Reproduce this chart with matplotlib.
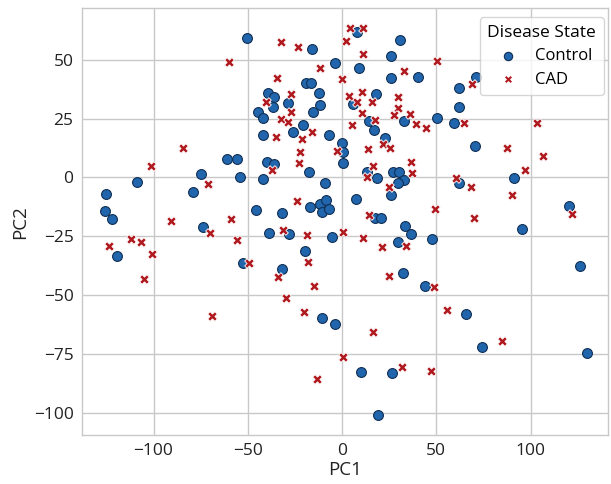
import matplotlib
matplotlib.use("Agg")
import matplotlib.pyplot as plt

plt.rcParams['font.family'] = ['Open Sans', 'DejaVu Sans']

control_pts = [(-50.6,59.5), (-15.9,54.7), (-3.5,48.6), (-19.3,40.1), (-16.6,40.3), (-39.3,36.1), (-36.1,34.4), (-12,35.8),
    (-28.6,31.6), (-36.4,30.1), (-11.7,30.9), (-44.7,27.7), (-41.7,25.2), (-15.5,27.7), (-20.5,22.3), (-42.1,18.1),
    (-25.8,19.2), (-7.1,18.1), (-0.2,14.6), (0.7,11),
    (8.1,62), (30.8,58.5), (25.8,51.8), (9.2,46.5), (25.8,42.5), (40.3,42.9), (61.8,38), (71.1,42.9), (17.9,35.4),
    (5.7,31.1), (61.8,29.9), (14.5,24), (33.1,24), (50.6,25.2), (59.6,23.1), (17.1,20.2), (22.8,16.9), (70.6,13.5),
    (-108.9,-1.8), (-75,1.5), (-78.8,-6), (-125.4,-7.2), (-125.7,-14.3), (-122.2,-17.7), (-73.6,-21.2), (-119.5,-33.4),
    (-60.8,7.7), (-55.9,7.7), (-40,6.7), (-35.9,5.7), (0.7,6.3), (-17.3,2.2), (-54.1,0.3), (-41.7,-0.8), (-9,-2.5),
    (-17,-12.4), (-11.7,-11.3), (-8.5,-9.6), (-10.8,-14.6), (-6.7,-13.5), (-45.8,-13.8), (-32,-15.2), (-38.5,-23.5),
    (-28,-24.2), (-5.5,-25.4), (-19.6,-31.1), (-52.7,-36.5), (-32,-38.9),
    (13.1,2.5), (27.2,2.5), (30.4,2.5), (18.4,-0.3), (32.6,-1.1), (29.4,-2.5), (25.8,-7.4), (7.4,-9.3), (61.8,-2.5),
    (17.5,-17.1), (20.5,-17.1), (33.3,-20.5), (36.4,-24), (47.6,-26.3), (29.9,-27.6), (32.5,-40.8), (44,-46.2),
    (91.2,-0.3), (120.6,-12.1), (95.3,-22), (126.3,-37.7),
    (-10.5,-59.7), (-3.7,-62.5), (65.8,-58.1), (10.1,-82.6), (26.7,-83.1), (19.3,-101.1), (74.4,-72), (130.1,-74.6)]

cad_pts = [(-84.5,12.4), (-32.5,57.5), (-23.3,55.7), (-60,49.3), (-11.7,46.7), (-0.2,41.9), (-34.3,42.5), (-27.2,35.4),
    (-40.3,32), (-27.2,27.7), (-32.5,24.9), (-28.8,23.5), (-35,17.4), (-15.8,19.2), (-21.1,16.4), (-22.3,11), (-2.5,11.4),
    (4.2,63.7), (11,63.7), (2.1,58.1), (11,52.4), (50.2,49.6), (33.1,45.4), (68.8,39.7), (3.9,34.8), (10.4,36.3),
    (7.8,32), (16.1,32), (29.5,34.4), (29.5,29.4), (10.4,27.3), (27.3,26.6), (36.1,26.9), (17.5,24.5), (64.9,23.1),
    (5.3,22.3), (39.3,22.6), (44.6,21.2), (21.9,14.1), (25.5,12.7), (13.6,12.1),
    (103.3,23.1), (87.7,12.4), (106.8,9.1),
    (-101.5,5), (-71.3,-2.8), (-90.7,-18.5), (-70,-23.7), (-112.1,-26.3), (-106.8,-27.3), (-123.6,-29.1), (-100.6,-32.6),
    (-105,-43.3),
    (-37.3,3.2), (-22.6,6.3), (-23.7,-9.9), (-58.9,-17.7), (-31.1,-22.3), (-18.7,-24.5), (0.7,-23.3), (-55.5,-26.6),
    (-17.9,-35.8), (-49.2,-36.3), (-33.8,-42.5), (-14.7,-46.2), (-29.7,-51.4),
    (36.6,6.7), (16.6,4.9), (37,1.8), (13.1,0.1), (24.9,-3.9), (60.5,-0.1), (68.3,-3.9), (49.3,-13.4), (69.7,-17.4),
    (14.5,-16), (11.3,-25.6), (33.8,-29), (21.4,-29.4), (25.1,-41.8), (49,-46.5),
    (97.1,3.2), (90.3,-7.4), (122.2,-15.5),
    (-69,-58.9), (-20,-57.4), (0.7,-76.3), (-13.4,-85.9), (16.3,-65.6), (55.5,-56.4), (31.7,-80.5), (47.1,-82.2), (85,-69.6)]

control_x = [p[0] for p in control_pts]
control_y = [p[1] for p in control_pts]
cad_x = [p[0] for p in cad_pts]
cad_y = [p[1] for p in cad_pts]

x_ticks = [-100, -50, 0, 50, 100]
y_ticks = [-100, -75, -50, -25, 0, 25, 50]

fig = plt.figure(figsize=(6.11, 4.84), dpi=100)
ax = fig.add_axes([0.134, 0.101, 0.861, 0.882])

ax.scatter(control_x, control_y, s=50, marker='o', color='#2166ac',
           edgecolors='#102f55', linewidths=0.8, label='Control', zorder=3)
ax.scatter(cad_x, cad_y, s=48, marker='X', color='#b0191e',
           edgecolors='white', linewidths=0.6, label='CAD', zorder=3)

ax.set_xlim(-138, 141)
ax.set_ylim(-109.6, 72)
ax.set_xticks(x_ticks)
ax.set_yticks(y_ticks)
ax.grid(True, color='#c8c8c8', linewidth=1.0)
ax.set_axisbelow(True)
for s in ax.spines.values():
    s.set_color('#c8c8c8')
    s.set_linewidth(1.0)
ax.tick_params(length=0, labelsize=12.5, pad=6, colors='#222222')
ax.set_xlabel('PC1', fontsize=13.5, color='#222222', labelpad=1)
ax.set_ylabel('PC2', fontsize=13.5, color='#222222', labelpad=3)

leg = ax.legend(title='Disease State', loc='upper right', fontsize=12,
                title_fontsize=12.5, frameon=True, borderpad=0.45,
                handletextpad=0.6, markerscale=0.85, labelspacing=0.45,
                bbox_to_anchor=(0.992, 0.979), borderaxespad=0.0)
leg.get_frame().set_edgecolor('#cccccc')

fig.savefig('out.png', dpi=100)
